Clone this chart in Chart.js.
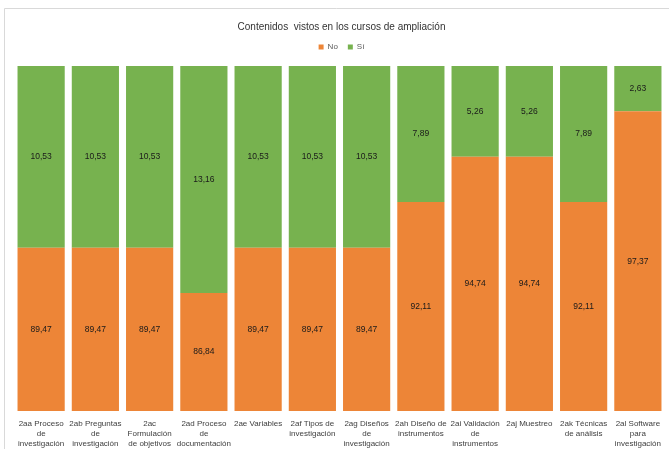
<!DOCTYPE html>
<html>
<head>
<meta charset="utf-8">
<script src="https://cdn.jsdelivr.net/npm/chart.js@4.4.1/dist/chart.umd.min.js"></script>
<style>
  html, body { margin: 0; padding: 0; background: #fff; }
  #wrap { width: 669px; height: 449px; position: relative; }
</style>
</head>
<body>
<div id="wrap"><canvas id="chart"></canvas></div>
<script>
// tick labels (already split into lines as in the original)
const categories = [
  ['2aa Proceso', 'de', 'investigación'],
  ['2ab Preguntas', 'de', 'investigación'],
  ['2ac', 'Formulación', 'de objetivos'],
  ['2ad Proceso', 'de', 'documentación'],
  ['2ae Variables'],
  ['2af Tipos de', 'investigación'],
  ['2ag Diseños', 'de', 'investigación'],
  ['2ah Diseño de', 'instrumentos'],
  ['2ai Validación', 'de', 'instrumentos'],
  ['2aj Muestreo'],
  ['2ak Técnicas', 'de análisis'],
  ['2al Software', 'para', 'investigación']
];
const noValues = [89.47, 89.47, 89.47, 86.84, 89.47, 89.47, 89.47, 92.11, 94.74, 94.74, 92.11, 97.37];
const siValues = [10.53, 10.53, 10.53, 13.16, 10.53, 10.53, 10.53, 7.89, 5.26, 5.26, 7.89, 2.63];
const seriesNames = ['No', 'Sí'];
const chartTitle = 'Contenidos  vistos en los cursos de ampliación';

const FONT = '"Liberation Sans Narrow", "Liberation Sans", Arial, sans-serif';
Chart.defaults.font.family = FONT;

// thin grey frame like the exported chart area
const frame = {
  id: 'frame',
  beforeDraw(chart) {
    const { ctx, width, height } = chart;
    ctx.save();
    ctx.strokeStyle = '#d9d9d9';
    ctx.lineWidth = 1;
    ctx.beginPath();
    ctx.moveTo(4.5, height);
    ctx.lineTo(4.5, 8.5);
    ctx.lineTo(width, 8.5);
    ctx.stroke();
    ctx.restore();
  }
};

// a bit of extra room under the legend
const legendGap = {
  id: 'legendGap',
  beforeUpdate(chart) {
    if (!chart.legend || chart.legend._gapPatched) return;
    const fit = chart.legend.fit;
    chart.legend.fit = function () { fit.call(this); this.height += 5; };
    chart.legend._gapPatched = true;
  }
};

// value labels in the middle of the visible part of each segment
const barLabels = {
  id: 'barLabels',
  afterDatasetsDraw(chart) {
    const { ctx, chartArea } = chart;
    ctx.save();
    ctx.font = '8.5px ' + FONT;
    ctx.fillStyle = '#1a1a1a';
    ctx.textAlign = 'center';
    ctx.textBaseline = 'middle';
    chart.data.datasets.forEach((ds, i) => {
      chart.getDatasetMeta(i).data.forEach((bar, j) => {
        const top = Math.max(Math.min(bar.y, bar.base), chartArea.top);
        const bottom = Math.min(Math.max(bar.y, bar.base), chartArea.bottom);
        ctx.fillText(ds.data[j].toFixed(2).replace('.', ','), bar.x, (top + bottom) / 2);
      });
    });
    ctx.restore();
  }
};

new Chart(document.getElementById('chart'), {
  type: 'bar',
  data: {
    labels: categories,
    datasets: [
      { label: seriesNames[0], data: noValues, backgroundColor: '#ED8537' },
      { label: seriesNames[1], data: siValues, backgroundColor: '#77B24F' }
    ]
  },
  options: {
    responsive: true,
    maintainAspectRatio: false,
    animation: false,
    layout: { padding: { left: 14, right: 0, top: 11, bottom: -8 } },
    datasets: { bar: { categoryPercentage: 1, barPercentage: 0.87 } },
    scales: {
      x: {
        stacked: true,
        grid: { display: false, drawTicks: false },
        border: { display: false },
        ticks: {
          color: '#404040',
          font: { size: 8, lineHeight: 1.25 },
          padding: 8,
          maxRotation: 0,
          autoSkip: false
        }
      },
      y: {
        stacked: true,
        display: false,
        min: 80,
        max: 100
      }
    },
    plugins: {
      title: {
        display: true,
        text: chartTitle,
        color: '#333333',
        font: { size: 10, weight: 'normal' },
        padding: { top: 10, bottom: 0 }
      },
      legend: {
        position: 'top',
        labels: {
          color: '#595959',
          boxWidth: 5,
          boxHeight: 5,
          font: { size: 8 },
          padding: 10
        }
      },
      tooltip: { enabled: false }
    }
  },
  plugins: [frame, legendGap, barLabels]
});
</script>
</body>
</html>
